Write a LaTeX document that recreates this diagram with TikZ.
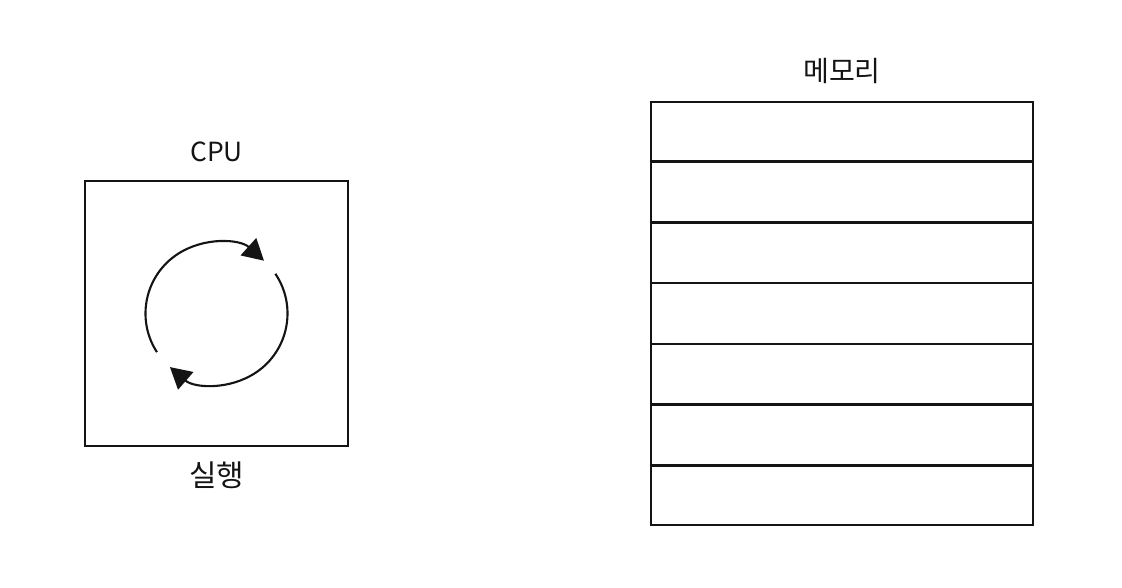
\documentclass[tikz,border=0pt]{standalone}
\usepackage{fontspec}
\usepackage{tikz}
\usetikzlibrary{arrows.meta, positioning, calc}
\newfontfamily\krfont{Noto Sans CJK KR}
\definecolor{inkdark}{RGB}{20,20,20}
\tikzset{
  unitbox/.style={rectangle, draw=inkdark, line width=1.5pt, inner sep=0pt},
  boxlabel/.style={font=\krfont\fontsize{15}{18}\selectfont, text=inkdark, inner sep=0pt},
  cyclearrow/.style={-{Triangle[length=0.42cm, width=0.46cm]}, line width=1.2pt, color=inkdark},
  rowline/.style={line width=1.5pt, color=inkdark}
}

\begin{document}
\begin{tikzpicture}
  \useasboundingbox (0,0) rectangle (22.44,11.76);

  % CPU
  \node[unitbox, minimum width=5.26cm, minimum height=5.30cm] (cpu) at (4.33,5.49) {};
  \node[boxlabel, above=0.34cm of cpu] (cpulabel) {CPU};
  \node[boxlabel, below=0.28cm of cpu, font=\krfont\fontsize{17}{20}\selectfont] (runlabel) {실행};

  % execution cycle
  \draw[cyclearrow] ($(cpu.center)+(213:1.42)$) arc[start angle=213, end angle=48, radius=1.42cm];
  \draw[cyclearrow] ($(cpu.center)+(34:1.42)$) arc[start angle=34, end angle=-131, radius=1.42cm];

  % Memory
  \node[unitbox, minimum width=7.64cm, minimum height=8.46cm] (mem) at (16.84,5.49) {};
  \node[boxlabel, above=0.34cm of mem, font=\krfont\fontsize{16}{19}\selectfont] (memlabel) {메모리};
  \foreach \i in {1,...,6}
    \draw[rowline] ($(mem.north west)!\i/7!(mem.south west)$) -- ($(mem.north east)!\i/7!(mem.south east)$);
\end{tikzpicture}
\end{document}
